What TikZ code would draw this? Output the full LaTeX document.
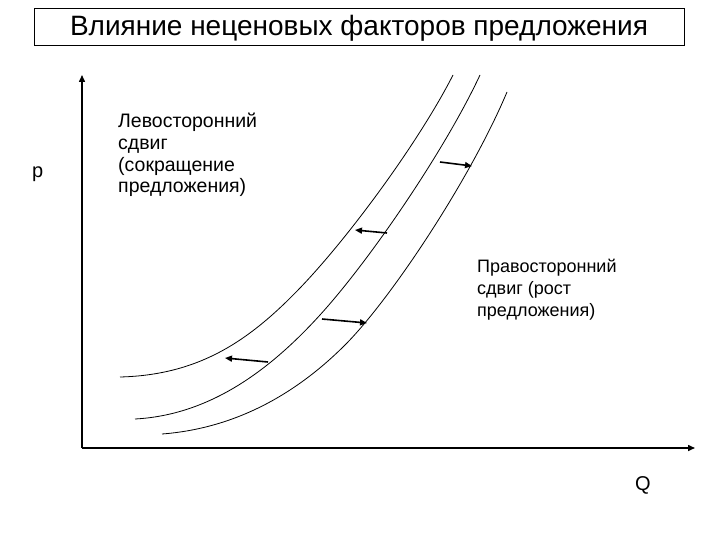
\documentclass[tikz,border=0pt]{standalone}
\usepackage{fontspec}
\setmainfont{Liberation Sans}
\usetikzlibrary{arrows.meta}

\begin{document}
\begin{tikzpicture}[x=1pt,y=-1pt,>={Triangle[length=7pt,width=6pt]},
	axis/.style={->,line width=1.5pt},
	curve/.style={line width=0.8pt},
	shift arrow/.style={->,line width=1.6pt},
	label text/.style={align=left,anchor=base west,inner sep=0pt}]
	
	\useasboundingbox (0,0) rectangle (720,540);
	
	\node[draw,line width=0.8pt,minimum width=650pt,inner sep=0pt,text height=28pt,text depth=9pt,
		font=\fontsize{28}{32}\selectfont] (title) at (359,26.5) {Влияние неценовых факторов предложения};
	
	% axes
	\coordinate (origin) at (82,448);
	\coordinate (ptop) at (82,75);
	\coordinate (qend) at (695,448);
	\draw[axis] (origin) -- (ptop);
	\draw[axis] (origin) -- (qend);
	\node[anchor=base west,inner sep=0pt,font=\fontsize{20}{24}\selectfont] (p) at (32,178) {p};
	\node[anchor=base west,inner sep=0pt,font=\fontsize{20}{24}\selectfont] (Q) at (635,490) {Q};
	
	% supply curves
	\draw[curve] (120,377) .. controls (200,375) and (250,340) .. (300,288)
		.. controls (350,236) and (420,140) .. (453,75);
	\draw[curve] (135,419) .. controls (210,415) and (270,370) .. (320,315)
		.. controls (370,260) and (445,150) .. (480,75);
	\draw[curve] (162,434) .. controls (240,428) and (300,390) .. (345,345)
		.. controls (390,300) and (470,180) .. (507,92);
	
	% shifts
	\coordinate (r1) at (440,162);
	\coordinate (r1e) at (472,166);
	\coordinate (l1) at (387,233);
	\coordinate (l1e) at (355,230);
	\coordinate (r2) at (322,319);
	\coordinate (r2e) at (367,323);
	\coordinate (l2) at (268,362);
	\coordinate (l2e) at (225,358);
	\draw[shift arrow] (r1) -- (r1e);
	\draw[shift arrow] (l1) -- (l1e);
	\draw[shift arrow] (r2) -- (r2e);
	\draw[shift arrow] (l2) -- (l2e);
	
	\node[label text,font=\fontsize{19.5}{21.7}\selectfont] (left shift) at (118,193)
		{Левосторонний\\сдвиг\\(сокращение\\предложения)};
	\node[label text,font=\fontsize{18}{22}\selectfont] (right shift) at (477,316)
		{Правосторонний\\сдвиг (рост\\предложения)};
\end{tikzpicture}
\end{document}
